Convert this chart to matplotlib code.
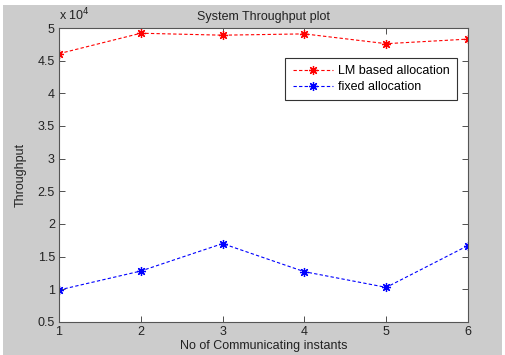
import matplotlib
matplotlib.use("Agg")
import matplotlib.pyplot as plt
from matplotlib.patches import Rectangle

x_vals = [1, 2, 3, 4, 5, 6]
lm_based = [46070, 49200, 48900, 49100, 47600, 48300]
fixed_alloc = [9900, 12800, 17000, 12700, 10300, 16700]
y_ticks = [0.5, 1, 1.5, 2, 2.5, 3, 3.5, 4, 4.5, 5]

plt.rcParams['font.family'] = ['Liberation Sans', 'DejaVu Sans']
W, H = 506, 355
fig = plt.figure(figsize=(W/100, H/100), dpi=100, facecolor='white')
fig.patches.append(Rectangle((3/W, 0), (502-3)/W, (H-5)/H, transform=fig.transFigure,
                             facecolor='#cccccc', edgecolor='none', zorder=-10))

ax = fig.add_axes([59/W, 1-322/H, (468-59)/W, (322-28)/H])
ax.set_facecolor('white')
scale = 1e4
mk = (8, 2, 0)
ax.plot(x_vals, [v/scale for v in lm_based], color='red', linestyle=(0, (3, 2)), linewidth=0.8,
        marker=mk, markersize=6.5, markeredgewidth=0.9, label='LM based allocation')
ax.plot(x_vals, [v/scale for v in fixed_alloc], color='blue', linestyle=(0, (3, 2)), linewidth=0.8,
        marker=mk, markersize=6.5, markeredgewidth=0.9, label='fixed allocation')
ax.set_xlim(1, 6)
ax.set_ylim(0.5, 5)
ax.set_xticks(x_vals)
ax.set_yticks(y_ticks)
ax.set_yticklabels([('%g' % t) for t in y_ticks])
fs = 9
ax.tick_params(direction='in', top=True, right=True, length=4, labelsize=fs, width=0.6,
               colors='#333333', labelcolor='#222222', pad=3)
for s in ax.spines.values():
    s.set_color('#555555')
    s.set_linewidth(0.8)
ax.text(0, 1.015, r'x 10$^{4}$', transform=ax.transAxes, fontsize=fs, color='#222222',
        ha='left', va='bottom')
ax.set_title('System Throughput plot', fontsize=fs, color='#222222', pad=6)
ax.set_xlabel('No of Communicating instants', fontsize=fs, color='#222222', labelpad=1)
ax.set_ylabel('Throughput', fontsize=fs, color='#222222', labelpad=8)
leg = ax.legend(loc='upper right', bbox_to_anchor=(0.973, 0.899), fontsize=fs, frameon=True,
                fancybox=False, edgecolor='#333333', framealpha=1, borderpad=0.6,
                handlelength=3.2, handletextpad=0.4, labelspacing=0.3, borderaxespad=0)
leg.get_frame().set_linewidth(0.8)
fig.savefig('out.png', dpi=100, facecolor='white')
